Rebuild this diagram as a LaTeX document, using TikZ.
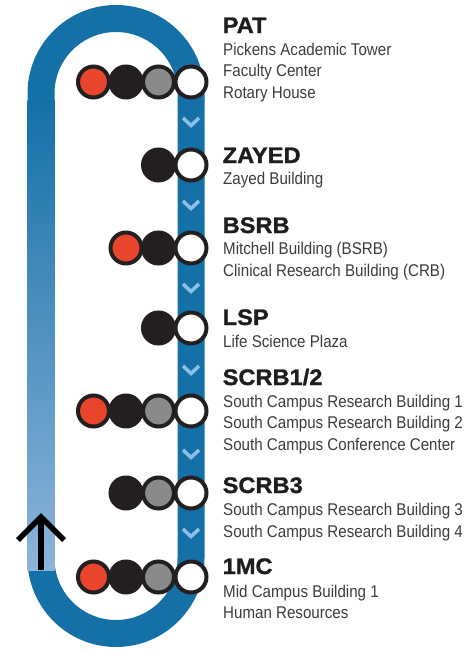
\documentclass[tikz,border=0pt]{standalone}
\usepackage{fontspec}
\setmainfont{Liberation Sans}
\newfontfamily\bodyfont{Liberation Sans}[FakeStretch=0.89]
\newfontfamily\headfont{Liberation Sans}[FakeStretch=1.05, FakeBold=1.2]
\definecolor{loopblue}{HTML}{1570A8}
\definecolor{lightbar}{HTML}{8DB4DA}
\definecolor{chevblue}{HTML}{8CC0E8}
\definecolor{stred}{HTML}{E8452C}
\definecolor{stblack}{HTML}{231F20}
\definecolor{stgray}{HTML}{8A8A8C}
\definecolor{bodytxt}{HTML}{3C3C3C}
\definecolor{headtxt}{HTML}{1E1C1D}
\tikzset{
  loopline/.style={line width=27pt, draw=loopblue},
  chevron/.style={line width=3.5pt, draw=chevblue, line join=miter},
  stn/.style={circle, draw=stblack, line width=4pt, minimum size=31pt, inner sep=0pt},
  stnred/.style={stn, fill=stred},
  stnblack/.style={stn, fill=stblack},
  stngray/.style={stn, fill=stgray},
  stnwhite/.style={stn, fill=white},
  headlabel/.style={anchor=base west, inner sep=0pt, text=headtxt, font=\headfont\bfseries\fontsize{22.5}{26}\selectfont},
  bodylabel/.style={anchor=base west, inner sep=0pt, text=bodytxt, font=\bodyfont\fontsize{17}{21}\selectfont},
  uparrow/.style={line width=5.5pt, draw=black, line join=miter}
}
\begin{document}
\begin{tikzpicture}[x=1pt, y=-1pt]
\useasboundingbox (0,0) rectangle (470,654);
% loop
\draw[loopline] (41,558.5) -- (41,93.5) arc[start angle=180, end angle=360, radius=75] -- (191,558.5) arc[start angle=0, end angle=180, radius=75] -- cycle;
\shade[top color=loopblue, bottom color=lightbar] (27.5,100) rectangle (54.5,570);
% chevrons
\foreach \cy in {122,205,288,370,454,533}{
  \draw[chevron] (183,\cy-4) -- (191,\cy+3.5) -- (199,\cy-4);
}
% arrow
\coordinate (arrowtail) at (41,570);
\coordinate (arrowtip) at (41,517);
\coordinate (arrowleft) at (18,540);
\coordinate (arrowright) at (64,540);
\draw[uparrow] (arrowtail) -- (arrowtip);
\draw[uparrow] (arrowleft) -- (arrowtip) -- (arrowright);
% PAT
\node[stnred] (patr) at (93.5,82) {};
\node[stnblack] (patb) at (126,82) {};
\node[stngray] (patg) at (158.5,82) {};
\node[stnwhite] (patw) at (191,82) {};
% ZAYED
\node[stnblack] (zayb) at (158.5,165) {};
\node[stnwhite] (zayw) at (191,165) {};
% BSRB
\node[stnred] (bsrr) at (126,248) {};
\node[stnblack] (bsrb) at (158.5,248) {};
\node[stnwhite] (bsrw) at (191,248) {};
% LSP
\node[stnblack] (lspb) at (158.5,328) {};
\node[stnwhite] (lspw) at (191,328) {};
% SCRB1/2
\node[stnred] (s12r) at (93.5,411) {};
\node[stnblack] (s12b) at (126,411) {};
\node[stngray] (s12g) at (158.5,411) {};
\node[stnwhite] (s12w) at (191,411) {};
% SCRB3
\node[stnblack] (s3b) at (126,493) {};
\node[stngray] (s3g) at (158.5,493) {};
\node[stnwhite] (s3w) at (191,493) {};
% 1MC
\node[stnred] (mcr) at (93.5,577) {};
\node[stnblack] (mcb) at (126,577) {};
\node[stngray] (mcg) at (158.5,577) {};
\node[stnwhite] (mcw) at (191,577) {};
% labels
\node[headlabel] (pathead) at (222.5,33) {PAT};
\node[bodylabel] (pat1) at (223,55) {Pickens Academic Tower};
\node[bodylabel] (pat2) at (223,76.5) {Faculty Center};
\node[bodylabel] (pat3) at (223,98) {Rotary House};
\node[headlabel] (zayhead) at (222.5,163) {ZAYED};
\node[bodylabel] (zay1) at (223,184) {Zayed Building};
\node[headlabel] (bsrhead) at (222.5,233) {BSRB};
\node[bodylabel] (bsr1) at (223,254) {Mitchell Building (BSRB)};
\node[bodylabel] (bsr2) at (223,276) {Clinical Research Building (CRB)};
\node[headlabel] (lsphead) at (222.5,325) {LSP};
\node[bodylabel] (lsp1) at (223,347) {Life Science Plaza};
\node[headlabel] (s12head) at (222.5,385) {SCRB1/2};
\node[bodylabel] (s121) at (223,407) {South Campus Research Building 1};
\node[bodylabel] (s122) at (223,428.5) {South Campus Research Building 2};
\node[bodylabel] (s123) at (223,450) {South Campus Conference Center};
\node[headlabel] (s3head) at (222.5,493) {SCRB3};
\node[bodylabel] (s31) at (223,515) {South Campus Research Building 3};
\node[bodylabel] (s32) at (223,537) {South Campus Research Building 4};
\node[headlabel] (mchead) at (222.5,574) {1MC};
\node[bodylabel] (mc1) at (223,597) {Mid Campus Building 1};
\node[bodylabel] (mc2) at (223,618) {Human Resources};
\end{tikzpicture}
\end{document}
